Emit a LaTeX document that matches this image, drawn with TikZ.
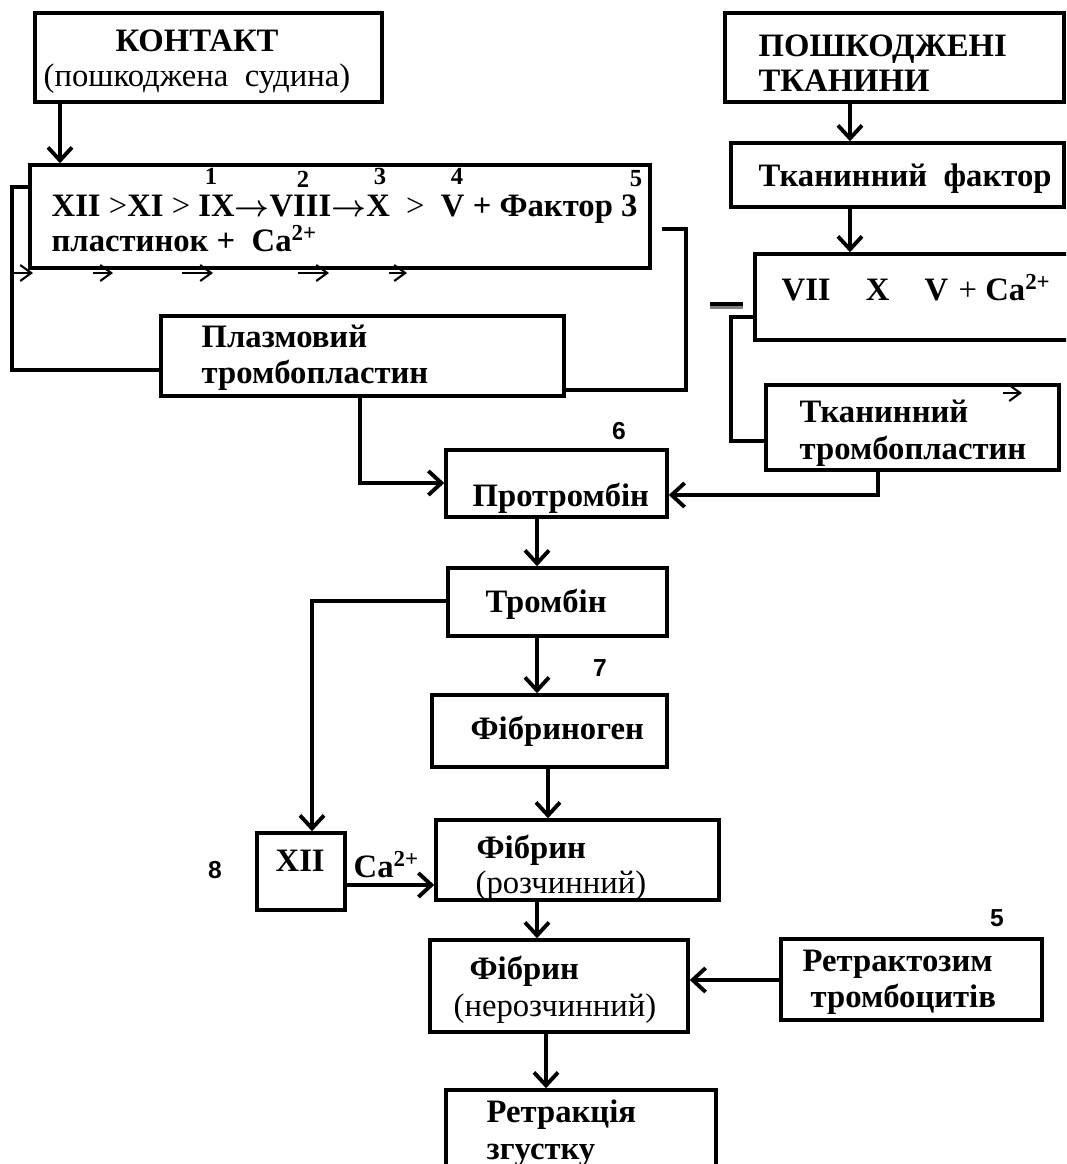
\documentclass[tikz,border=0pt]{standalone}
\usepackage{fontspec}
\setmainfont{Liberation Serif}
\setsansfont{Liberation Sans}
\usepackage{tikz}
\usetikzlibrary{arrows.meta, calc, fit}

\newcommand{\casarr}{{\boldmath$\rightarrow$}}
\newcommand{\casgt}{{\mdseries\textgreater}}

\begin{document}
\begin{tikzpicture}[x=0.02cm, y=-0.02cm, line width=1.9pt,
  box/.style={draw, inner sep=0pt, line width=2pt},
  lbl/.style={font=\fontsize{18.6}{22}\selectfont\bfseries, anchor=west,
              inner sep=0pt, text height=0.7em, text depth=0.2em, yshift=-0.1cm},
  note/.style={font=\fontsize{18.6}{22}\selectfont, anchor=west,
              inner sep=0pt, text height=0.7em, text depth=0.2em, yshift=-0.1cm},
  num/.style={font=\fontsize{14}{14}\selectfont\bfseries, inner sep=0pt},
  snum/.style={font=\sffamily\fontsize{14}{14}\selectfont\bfseries, inner sep=0pt},
  arr/.style={-{Straight Barb[length=2.6mm,width=4.8mm,line width=2.2pt]}},
  tick/.style={line width=1.2pt, -{Straight Barb[length=2.2mm,width=3.2mm]}}]
  \useasboundingbox (0,0) rectangle (1066,1164);
  \clip (0,0) rectangle (1066,1164);

  % Boxes
  \node[box, fit={(35,13) (382,102)}]    (kontakt) {};
  \node[box, fit={(725,13) (1064,102)}]  (damage)  {};
  \node[box, fit={(30,165) (650,268)}]   (casc)    {};
  \node[box, fit={(731,143) (1064,207)}] (tfact)   {};
  \node[box, fit={(755,254) (1090,340)}] (vii)     {};
  \node[box, fit={(161,316) (564,396)}]  (plazm)   {};
  \node[box, fit={(766,385) (1059,470)}] (ttp)     {};
  \node[box, fit={(446,450) (667,517)}]  (protr)   {};
  \node[box, fit={(448,568) (667,636)}]  (tromb)   {};
  \node[box, fit={(432,695) (667,767)}]  (fibrg)   {};
  \node[box, fit={(257,833) (345,910)}]  (xii)     {};
  \node[box, fit={(436,820) (719,900)}]  (fsol)    {};
  \node[box, fit={(430,940) (688,1032)}] (finsol)  {};
  \node[box, fit={(781,939) (1042,1020)}] (retrz)  {};
  \node[box, fit={(446,1090) (716,1190)}] (retr)   {};

  % Texts
  \node[lbl, anchor=center] at (197,42) {КОНТАКТ};
  \node[note] at (42,77) {(пошкоджена\ \ судина)};
  \node[lbl] at (757,47) {ПОШКОДЖЕНІ};
  \node[lbl] at (757,82) {ТКАНИНИ};
  \node[lbl] at (757,177) {Тканинний\ \ фактор};
  \node[lbl] at (50,207)
    {XII \casgt XI \casgt{} IX\casarr VIII\casarr X\enspace\casgt\enspace V + Фактор 3};
  \node[lbl] at (50,242) {пластинок +\ \ Ca\textsuperscript{2+}};
  \node[lbl] at (780,291) {VII\hspace{20pt}X\hspace{20pt}V\hspace{6pt}{\mdseries +} Ca\textsuperscript{2+}};
  \node[lbl] at (200,338) {Плазмовий};
  \node[lbl] at (200,374) {тромбопластин};
  \node[lbl] at (798,413) {Тканинний};
  \node[lbl] at (798,450) {тромбопластин};
  \node[lbl] at (471,497) {Протромбін};
  \node[lbl] at (484,603) {Тромбін};
  \node[lbl] at (469,730) {Фібриноген};
  \node[lbl] at (274,862) {XII};
  \node[lbl] at (475,849) {Фібрин};
  \node[note] at (474,884) {(розчинний)};
  \node[lbl] at (468,970) {Фібрин};
  \node[note] at (452,1007) {(нерозчинний)};
  \node[lbl] at (801,962) {Ретрактозим};
  \node[lbl] at (809,998) {тромбоцитів};
  \node[lbl] at (485,1113) {Ретракція};
  \node[lbl] at (485,1150) {згустку};
  \node[lbl] at (352,868) {Ca\textsuperscript{2+}};

  % Numbers
  \node[num] (n1) at (211,176) {1};
  \node[num] (n2) at (303,179) {2};
  \node[num] (n3) at (380,176) {3};
  \node[num] (n4) at (457,176) {4};
  \node[num] (n5) at (636,179) {5};
  \node[snum] (n6) at (619,431) {6};
  \node[snum] (n7) at (600,668) {7};
  \node[snum] (n8) at (215,870) {8};
  \node[snum] (n9) at (997,918) {5};

  % Connectors
  \draw[arr] (60,0 |- kontakt.south) -- (60,0 |- casc.north);
  \draw[arr] (850,0 |- damage.south) -- (850,0 |- tfact.north);
  \draw[arr] (850,0 |- tfact.south) -- (850,0 |- vii.north);
  \draw (casc.west |- 0,187) -| (12,370) -- (plazm.west |- 0,370);
  \coordinate (brk) at (662,229);
  \draw (brk) -| (686,390) -- (plazm.east |- 0,390);
  \draw (vii.west |- 0,317) -| (731,441) -- (ttp.west |- 0,441);
  \draw[arr] (360,0 |- plazm.south) |- (protr.west |- 0,483);
  \draw[arr] (878,0 |- ttp.south) |- (protr.east |- 0,495);
  \draw[arr] (537,0 |- protr.south) -- (537,0 |- tromb.north);
  \draw[arr] (tromb.west |- 0,601) -| (312,0 |- xii.north);
  \draw[arr] (537,0 |- tromb.south) -- (537,0 |- fibrg.north);
  \draw[arr] (548,0 |- fibrg.south) -- (548,0 |- fsol.north);
  \draw[arr] (xii.east |- 0,885) -- (fsol.west |- 0,885);
  \draw[arr] (537,0 |- fsol.south) -- (537,0 |- finsol.north);
  \draw[arr] (retrz.west |- 0,980) -- (finsol.east |- 0,980);
  \draw[arr] (546,0 |- finsol.south) -- (546,0 |- retr.north);

  % Stray arrow marks and dash
  \foreach \a/\b in {14/33, 93/113, 182/213, 298/329, 389/407}
    \draw[tick] (\a,273) -- (\b,273);
  \draw[tick] (1003,393) -- (1022,393);
  \draw[gray, line width=2.4pt] (710,307) -- (743,307);
  \draw[line width=2.4pt] (710,304) -- (743,304);
\end{tikzpicture}
\end{document}
